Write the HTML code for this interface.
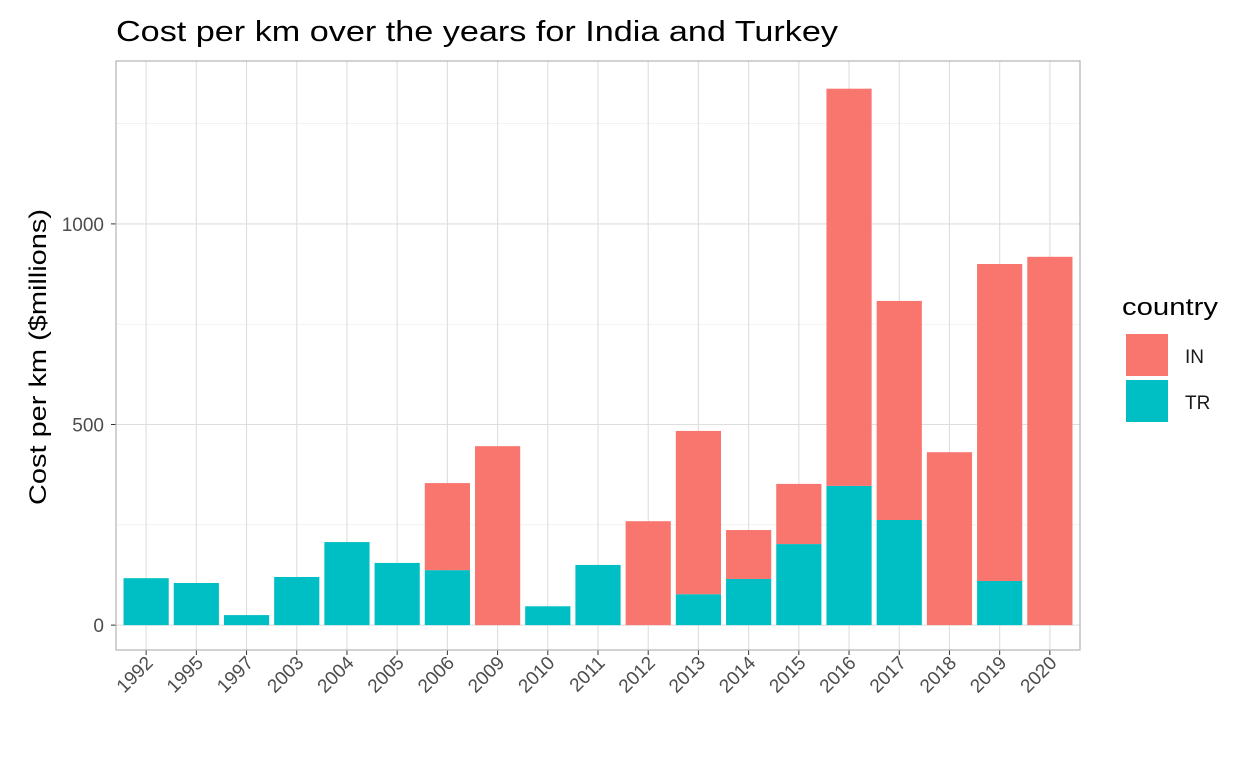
<!DOCTYPE html>
<html><head><meta charset="utf-8"><style>
body{margin:0;background:#fff;font-family:"Liberation Sans",sans-serif}
svg text{font-family:"Liberation Sans",sans-serif}
</style></head><body>
<svg id="chart" width="1248" height="768">
<text x="116" y="41" font-size="29" fill="#000" textLength="722" lengthAdjust="spacingAndGlyphs">Cost per km over the years for India and Turkey</text>
<g id="grid"></g><g id="bars"></g><g id="axes"></g>
<text transform="translate(46,357) rotate(-90)" text-anchor="middle" font-size="24" fill="#000" textLength="296" lengthAdjust="spacingAndGlyphs">Cost per km ($millions)</text>
<g>
<text x="1122" y="315" font-size="24" textLength="96" lengthAdjust="spacingAndGlyphs">country</text>
<rect x="1126" y="334" width="42" height="42" fill="#F8766D"/>
<text x="1185" y="363" font-size="19" fill="#1a1a1a">IN</text>
<rect x="1126" y="380" width="42" height="42" fill="#00BFC4"/>
<text x="1185" y="409" font-size="19" fill="#1a1a1a">TR</text>
</g>
</svg>
<script>
const years=["1992","1995","1997","2003","2004","2005","2006","2009","2010","2011","2012","2013","2014","2015","2016","2017","2018","2019","2020"];
const trValues=[117,105,25,120,207,155,137,0,47,150,0,77,115,202,347,262,0,110,0];
const inValues=[0,0,0,0,0,0,217,446,0,0,259,407,122,150,990,546,431,790,918];
const yTicks=[0,500,1000];
const yMinor=[250,750,1250];
const NS="http://www.w3.org/2000/svg";
const L=116,R=1080,T=61,B=650,ymin=-62,ymax=1406;
const y=v=>B-(v-ymin)/(ymax-ymin)*(B-T);
const step=(R-L)/(years.length+0.2);
const x=i=>L+step*(0.6+i);
const bw=step*0.9;
function mk(tag,attrs,parent){const e=document.createElementNS(NS,tag);for(const k in attrs)e.setAttribute(k,attrs[k]);document.getElementById(parent).appendChild(e);return e;}
const g="grid";
yMinor.forEach(v=>{const e=mk("line",{x1:L,x2:R,y1:y(v),y2:y(v),stroke:"#ebebeb","stroke-width":0.6},g);

});
yTicks.forEach(v=>{const e=mk("line",{x1:L,x2:R,y1:y(v),y2:y(v),stroke:"#dedede","stroke-width":1.1},g);


const t=mk("text",{x:L-12,y:y(v)+7,"text-anchor":"end","font-size":19,fill:"#4d4d4d"},"axes");t.textContent=v;


const tk=mk("line",{x1:L-5,x2:L,y1:y(v),y2:y(v),stroke:"#333","stroke-width":1},"axes");

});
years.forEach((yr,i)=>{const e=mk("line",{x1:x(i),x2:x(i),y1:T,y2:B,stroke:"#dedede","stroke-width":1.1},g);


const tk=mk("line",{x1:x(i),x2:x(i),y1:B,y2:B+5,stroke:"#333","stroke-width":1},"axes");


const t=mk("text",{transform:`translate(${x(i)+8},${B+14}) rotate(-45)`,"text-anchor":"end","font-size":19,fill:"#4d4d4d"},"axes");t.textContent=yr;


if(trValues[i]>0){const r=mk("rect",{x:x(i)-bw/2,y:y(trValues[i]),width:bw,height:y(0)-y(trValues[i]),fill:"#00BFC4"},"bars");

}
if(inValues[i]>0){const top=trValues[i]+inValues[i];const r=mk("rect",{x:x(i)-bw/2,y:y(top),width:bw,height:y(trValues[i])-y(top),fill:"#F8766D"},"bars");

}
});
const fr=mk("rect",{x:L,y:T,width:R-L,height:B-T,fill:"none",stroke:"#b3b3b3","stroke-width":1.2},"axes");


</script>
</body></html>
